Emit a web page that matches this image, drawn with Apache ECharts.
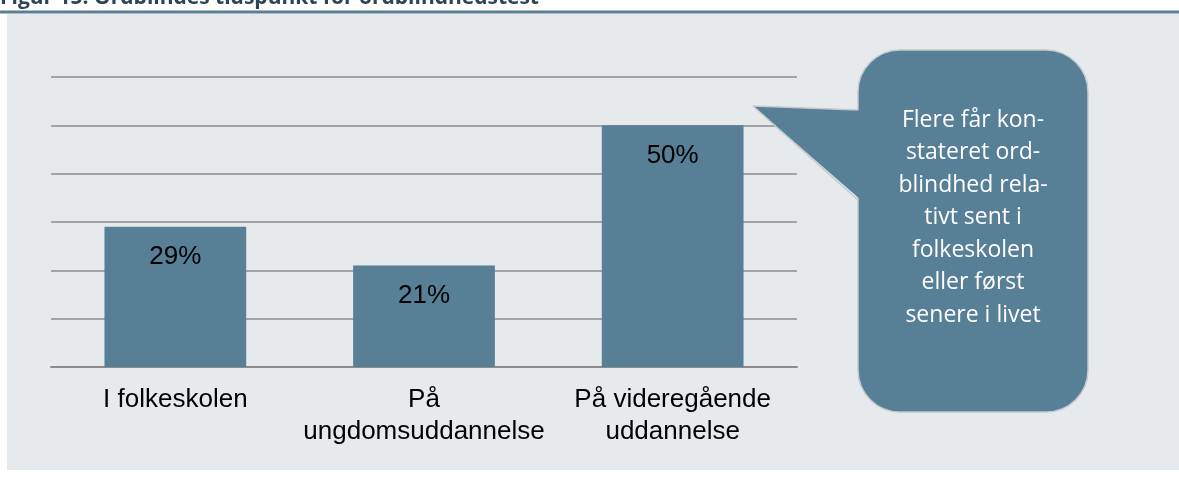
<!DOCTYPE html>
<html>
<head>
<meta charset="utf-8">
<script src="https://cdn.jsdelivr.net/npm/echarts@6/dist/echarts.min.js"></script>
<style>
  html, body { margin: 0; padding: 0; background: #fff; }
  #chart { width: 1179px; height: 477px; }
</style>
</head>
<body>
<div id="chart"></div>
<script>
const categories = ["I folkeskolen", "På\nungdomsuddannelse", "På videregående\nuddannelse"]
const values = [29, 21, 50]
const calloutLines = ["Flere får kon-", "stateret ord-", "blindhed rela-", "tivt sent i", "folkeskolen", "eller først", "senere i livet"]
const titleText = "Figur 15: Ordblindes tidspunkt for ordblindhedstest"

const barColor = "#577f96"
const chart = echarts.init(document.getElementById("chart"))

chart.setOption({
  backgroundColor: "#ffffff",
  animation: false,
  graphic: [
    // panel + rule under the (cropped) figure title
    { type: "rect", z: -10, shape: { x: 7, y: 14, width: 1172, height: 456 }, style: { fill: "#e7eaed" } },
    { type: "rect", z: -9, shape: { x: 0, y: 10.5, width: 1179, height: 3 }, style: { fill: "#5b7f95" } },
    {
      type: "text", left: 0, top: -12,
      style: { text: titleText, font: "bold 21px 'Open Sans'", fill: "#2b4555" }
    },
    // speech bubble
    {
      type: "polygon", z: 10,
      shape: { points: [[753, 106], [861, 110], [861, 200]] },
      style: { fill: barColor }
    },
    {
      type: "rect", z: 9,
      shape: { x: 858, y: 50, width: 230, height: 362, r: 42 },
      style: { fill: barColor, stroke: "#c3c9ce", lineWidth: 1.5 }
    },
    {
      type: "line", z: 11,
      shape: { x1: 753, y1: 106, x2: 858, y2: 110 },
      style: { stroke: "#c3c9ce", lineWidth: 1.5 }
    },
    {
      type: "line", z: 11,
      shape: { x1: 753, y1: 106, x2: 858, y2: 200 },
      style: { stroke: "#c3c9ce", lineWidth: 1.5 }
    },
    {
      type: "text", z: 12,
      x: 973, y: 104,
      style: {
        text: calloutLines.join("\n"),
        font: "23px 'Open Sans'",
        lineHeight: 32.5,
        fill: "#ffffff",
        align: "center",
        verticalAlign: "top"
      }
    }
  ],
  grid: { left: 51, right: 382, top: 77, bottom: 110, containLabel: false },
  xAxis: {
    type: "category",
    data: categories,
    axisLine: { lineStyle: { color: "#8c8c8c", width: 2 } },
    axisTick: { show: false },
    axisLabel: {
      color: "#000",
      fontFamily: "Liberation Sans",
      fontSize: 26,
      lineHeight: 32,
      margin: 17,
      interval: 0
    }
  },
  yAxis: {
    type: "value",
    min: 0,
    max: 60,
    interval: 10,
    axisLabel: { show: false },
    axisLine: { show: false },
    axisTick: { show: false },
    splitLine: { lineStyle: { color: "#8c8c8c", width: 1.5 } }
  },
  series: [
    {
      type: "bar",
      data: values,
      barWidth: "57%",
      itemStyle: { color: barColor },
      label: {
        show: true,
        position: "insideTop",
        distance: 17,
        formatter: "{c}%",
        color: "#000",
        fontFamily: "Liberation Sans",
        fontSize: 26
      }
    }
  ]
})
</script>
</body>
</html>
